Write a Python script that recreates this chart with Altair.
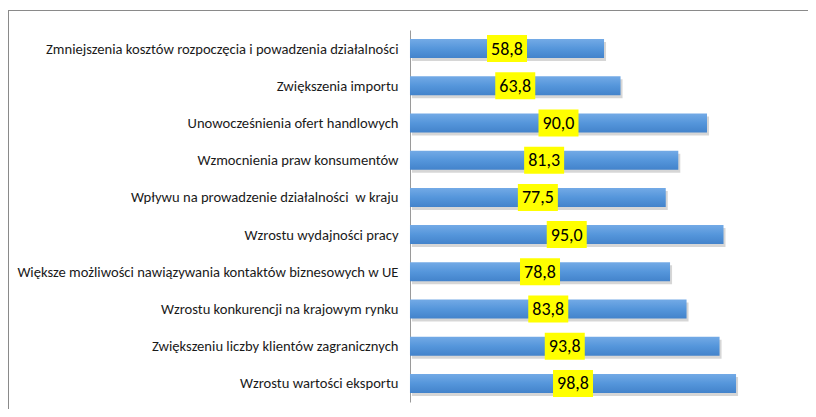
import altair as alt
import pandas as pd

categories = [
    "Zmniejszenia kosztów rozpoczęcia i powadzenia działalności",
    "Zwiększenia importu\u00a0\u00a0\u00a0\u00a0",
    "Unowocześnienia ofert handlowych",
    "Wzmocnienia praw konsumentów",
    "Wpływu na prowadzenie działalności \u00a0w kraju",
    "Wzrostu wydajności pracy",
    "Większe możliwości nawiązywania kontaktów biznesowych w UE",
    "Wzrostu konkurencji na krajowym rynku",
    "Zwiększeniu liczby klientów zagranicznych",
    "Wzrostu wartości eksportu",
]
values = [58.8, 63.8, 90.0, 81.3, 77.5, 95.0, 78.8, 83.8, 93.8, 98.8]
labels = ["58,8", "63,8", "90,0", "81,3", "77,5", "95,0", "78,8", "83,8", "93,8", "98,8"]

df = pd.DataFrame({"cat": categories, "v": values, "lab": labels})
df["mid"] = df["v"] / 2

W, H = 800, 399
FONT = "Carlito, Liberation Sans Narrow, Liberation Sans, sans-serif"

xs = alt.Scale(domain=[-121.8, 120.6], nice=False, zero=False)
ys = alt.Scale(domain=categories, range=[20, 392], paddingInner=0.49, paddingOuter=0.245)

y_enc = alt.Y("cat:N", scale=ys, sort=categories,
              axis=alt.Axis(title=None, orient="left", offset=-402, ticks=False,
                            domainColor="#9a9a9a", domainWidth=1,
                            labelFont=FONT, labelFontSize=14.6, labelColor="#1a1a1a",
                            labelPadding=12, labelLimit=500, labelOffset=1))

base = alt.Chart(df)

shadow = base.mark_bar(color="#8a8a8a", opacity=0.35, xOffset=2, x2Offset=2,
                       yOffset=3, y2Offset=3).encode(
    x=alt.X("zero:Q", scale=xs, axis=None), x2="v:Q", y=y_enc
).transform_calculate(zero="0")

bars = base.mark_bar(
    color=alt.Gradient(
        gradient="linear",
        stops=[alt.GradientStop(color="#73aae6", offset=0),
               alt.GradientStop(color="#5596db", offset=0.5),
               alt.GradientStop(color="#4383cb", offset=1)],
        x1=0, x2=0, y1=0, y2=1,
    )
).encode(
    x=alt.X("zero:Q", scale=xs, axis=None), x2="v:Q", y=y_enc
).transform_calculate(zero="0")

boxes = base.mark_point(
    shape="M-1,-0.675L1,-0.675L1,0.675L-1,0.675Z", size=1600,
    filled=True, color="#ffff00", opacity=1, strokeWidth=0
).encode(x=alt.X("mid:Q", scale=xs, axis=None), y=y_enc)

texts = base.mark_text(font=FONT, fontSize=18, color="#000000", baseline="middle",
                       align="center", dy=1).encode(
    x=alt.X("mid:Q", scale=xs, axis=None), y=y_enc, text="lab:N")

frame_top = alt.Chart(pd.DataFrame({"a": [0]})).mark_rule(color="#8a8a8a", strokeWidth=1).encode(
    x=alt.value(0), x2=alt.value(W), y=alt.value(0.5))
frame_left = alt.Chart(pd.DataFrame({"a": [0]})).mark_rule(color="#8a8a8a", strokeWidth=1).encode(
    x=alt.value(0.5), y=alt.value(0), y2=alt.value(H))

chart = alt.layer(shadow, bars, boxes, texts, frame_top, frame_left).properties(
    width=W, height=H,
    autosize=alt.AutoSizeParams(type="none"),
    padding={"left": 0, "top": 2, "right": 0, "bottom": 0},
).configure_view(stroke=None).configure(background="white")

chart.save("out.html", embed_options={"renderer": "svg", "actions": False})
